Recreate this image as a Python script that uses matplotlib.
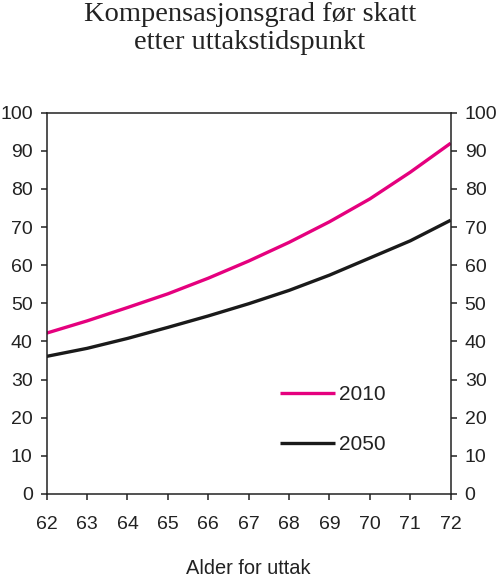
import matplotlib
matplotlib.use("Agg")
import matplotlib.pyplot as plt

# data
alder = [62, 63, 64, 65, 66, 67, 68, 69, 70, 71, 72]
grad_2010 = [42.2, 45.4, 48.9, 52.5, 56.6, 61.1, 66.0, 71.4, 77.4, 84.4, 92.0]
grad_2050 = [36.1, 38.2, 40.8, 43.7, 46.7, 49.9, 53.4, 57.4, 61.9, 66.4, 71.8]
serier = ["2010", "2050"]
farger = ["#e5007e", "#1a1a1a"]

yticks = list(range(0, 101, 10))

plt.rcParams["font.family"] = ["Liberation Sans", "DejaVu Sans"]

fig = plt.figure(figsize=(5.0, 5.85), dpi=100)
ax = fig.add_axes([46.7 / 500, 91 / 585, 404 / 500, 381.3 / 585])

for verdier, navn, farge in zip([grad_2010, grad_2050], serier, farger):
    ax.plot(alder, verdier, color=farge, lw=2.4, label=navn, solid_capstyle="butt")

ax.set_xlim(62, 72)
ax.set_ylim(0, 100)
ax.set_xticks(alder)
ax.set_yticks(yticks)
ax.tick_params(axis="both", direction="out", length=4.3, width=1.1,
               labelsize=14, color="#222222", labelcolor="#222222")
ax.tick_params(axis="y", right=True, labelright=True, pad=5.8)
ax.tick_params(axis="x", pad=11.5)
for s in ax.spines.values():
    s.set_linewidth(1.1)
    s.set_color("#222222")

# x-akse tittel
fig.text(248.7 / 500, 1 - 574 / 585, "Alder for uttak", ha="center",
         va="baseline", fontsize=14.4, color="#222222")

fig.text(0.5, 1 - 2 / 585, "Kompensasjonsgrad før skatt\netter uttakstidspunkt",
         ha="center", va="top", fontsize=20.5, family="Liberation Serif",
         color="#222222", linespacing=1.17)

ax.legend(loc="upper left", bbox_to_anchor=(280 / 500, 1 - 385 / 585),
          bbox_transform=fig.transFigure, frameon=False, fontsize=15,
          handlelength=2.65, handletextpad=0.2, labelspacing=1.5,
          borderpad=0, borderaxespad=0, labelcolor="#222222")

fig.savefig("out.png", dpi=100)
